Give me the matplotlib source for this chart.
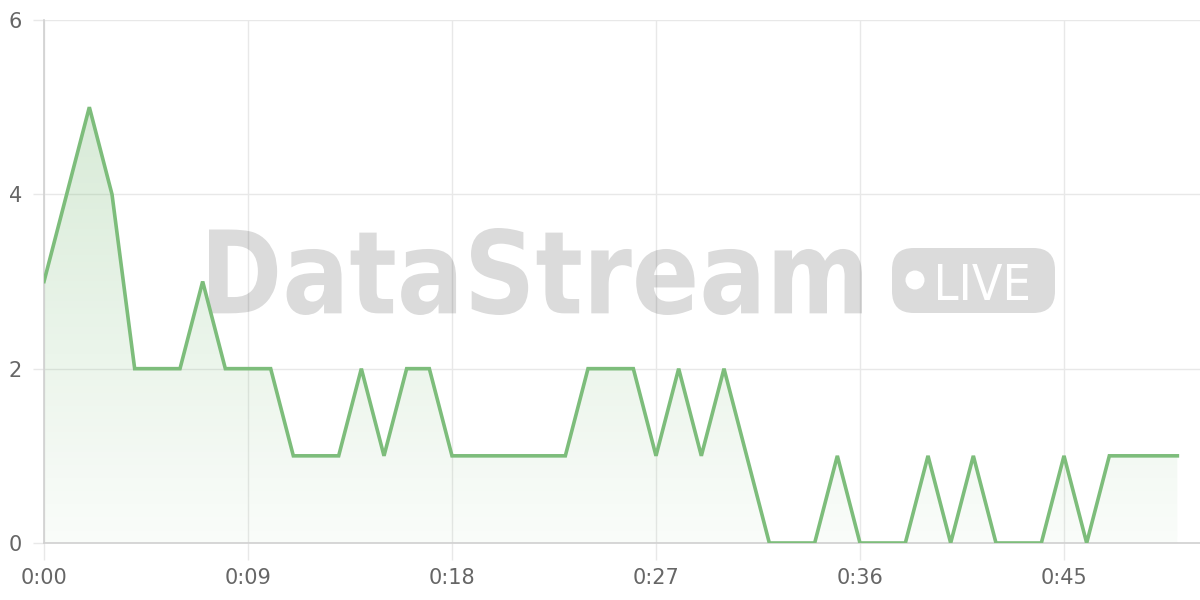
import numpy as np
import matplotlib; matplotlib.use("Agg")
import matplotlib.pyplot as plt
from matplotlib.colors import LinearSegmentedColormap
from matplotlib.textpath import TextPath
from matplotlib.font_manager import FontProperties
from matplotlib.patches import PathPatch, FancyBboxPatch, Ellipse
from matplotlib.path import Path

# one value per second, 0:00 .. 0:50
secs = list(range(51))
vals = [3, 4, 5, 4, 2, 2, 2, 3, 2, 2, 2, 1, 1, 1, 2, 1, 2, 2, 1, 1,
        1, 1, 1, 1, 2, 2, 2, 1, 2, 1, 2, 1, 0, 0, 0, 1, 0, 0, 0, 1,
        0, 1, 0, 0, 0, 1, 0, 1, 1, 1, 1]
xticks = [0, 9, 18, 27, 36, 45]
xlabels = ["0:00", "0:09", "0:18", "0:27", "0:36", "0:45"]
yticks = [0, 2, 4, 6]

GREEN = "#7dbd7b"
GRID = "#e8e8e8"
TXT = "#666666"

fig = plt.figure(figsize=(12, 6), dpi=100)
ax = fig.add_axes([44/1200, 57/600, 1156/1200, 523/600])

# gradient fill under the line
poly = ax.fill_between(secs, vals, 0, color="none", lw=0)
cmap = LinearSegmentedColormap.from_list("g", [(0.49, 0.74, 0.48, 0.04), (0.49, 0.74, 0.48, 0.30)])
grad = np.linspace(0, 1, 256).reshape(-1, 1)
im = ax.imshow(grad, cmap=cmap, origin="lower", aspect="auto",
               extent=[0, max(secs), 0, max(vals)], zorder=1)
im.set_clip_path(poly.get_paths()[0], transform=ax.transData)

ax.plot(secs, vals, color=GREEN, lw=2.6, zorder=5, solid_joinstyle="miter")

ax.set_xlim(0, 51)
ax.set_ylim(0, 6)
ax.set_xticks(xticks)
ax.set_xticklabels(xlabels)
ax.set_yticks(yticks)
ax.grid(True, color=GRID, lw=1)
ax.set_axisbelow(True)
for s in ["top", "right"]:
    ax.spines[s].set_visible(False)
ax.spines["left"].set_color("#d0d0d0")
ax.spines["bottom"].set_color("#d0d0d0")
ax.spines["left"].set_linewidth(1.2)
ax.spines["bottom"].set_linewidth(1.2)
ax.tick_params(axis="x", length=12, width=1, color=GRID, pad=6, labelsize=15, labelcolor=TXT)
ax.tick_params(axis="y", length=8, width=1, color=GRID, pad=8, labelsize=15, labelcolor=TXT)

# watermark, placed in figure pixels, under the line
def px(x, y):
    return x / 1200, (600 - y) / 600

def fit_text(s, box, weight, **kw):
    tp = TextPath((0, 0), s, size=1, prop=FontProperties(family="DejaVu Sans", weight=weight))
    ext = tp.get_extents()
    x0, y0, x1, y1 = box
    v = tp.vertices.copy()
    v[:, 0] = (v[:, 0] - ext.x0) / ext.width * (x1 - x0) + x0
    v[:, 1] = y1 - (v[:, 1] - ext.y0) / ext.height * (y1 - y0)
    v = np.column_stack(px(v[:, 0], v[:, 1]))
    p = PathPatch(Path(v, tp.codes), transform=fig.transFigure, ec="none", clip_on=False, **kw)
    ax.add_patch(p)

fit_text("DataStream", (209, 228, 862, 315), "bold", fc="black", alpha=0.14, zorder=3)
bx, by = px(892, 313)
ax.add_patch(FancyBboxPatch((bx, by), 163/1200, 65/600,
                            boxstyle="round,pad=0,rounding_size=0.018",
                            transform=fig.transFigure, fc="black", ec="none",
                            alpha=0.14, mutation_aspect=2, zorder=3, clip_on=False))
cx, cy = px(915, 280)
ax.add_patch(Ellipse((cx, cy), 19/1200, 19/600, transform=fig.transFigure, fc="white",
                     ec="none", zorder=4, clip_on=False))
fit_text("LIVE", (938, 264, 1028, 300), "normal", fc="white", zorder=4)

fig.savefig("out.png", dpi=100)
